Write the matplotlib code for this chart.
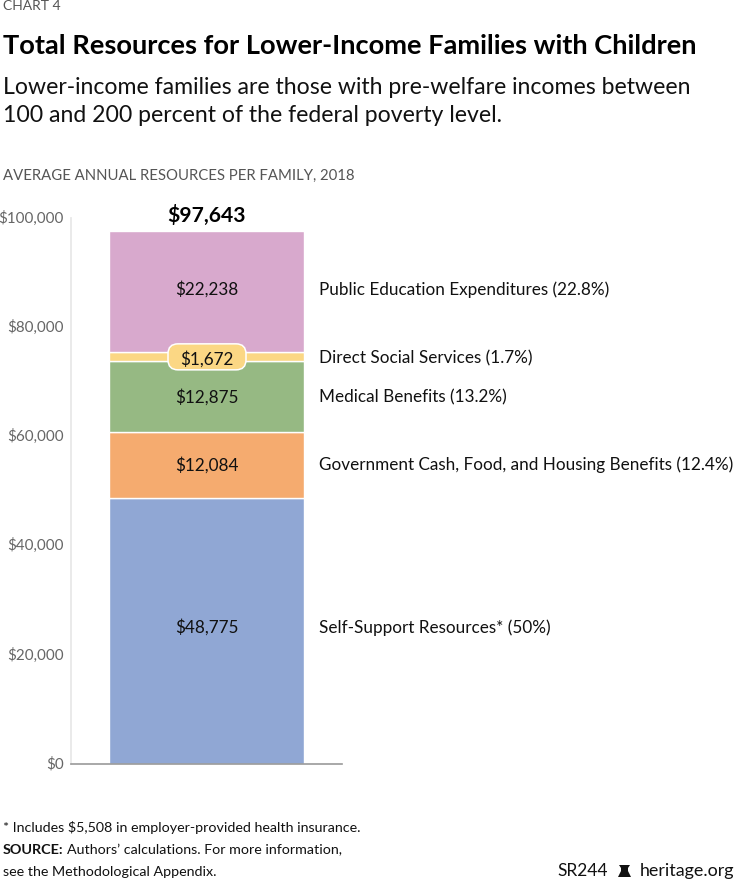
import matplotlib
matplotlib.use("Agg")
import matplotlib.pyplot as plt
from matplotlib.patches import Polygon, FancyBboxPatch
from matplotlib.transforms import ScaledTranslation

W, H = 734, 881
plt.rcParams['font.family'] = ['Lato', 'DejaVu Sans']

segments = ["Self-Support Resources* (50%)",
            "Government Cash, Food, and Housing Benefits (12.4%)",
            "Medical Benefits (13.2%)",
            "Direct Social Services (1.7%)",
            "Public Education Expenditures (22.8%)"]
values = [48775, 12084, 12875, 1672, 22238]
value_labels = ["$48,775", "$12,084", "$12,875", "$1,672", "$22,238"]
colors = ["#90a7d4", "#f5ab6f", "#96b983", "#fbd784", "#d8a9cd"]
total_label = "$97,643"
yticks = [0, 20000, 40000, 60000, 80000, 100000]
ytick_labels = ["$0", "$20,000", "$40,000", "$60,000", "$80,000", "$100,000"]

nudge_px = [3.5, 0, -1, -2, 2]  # label shift upward, pixels

def fx(x): return x / W
def fy(y): return 1 - y / H

fig = plt.figure(figsize=(W / 100, H / 100), dpi=100, facecolor="white")
ax = fig.add_axes([fx(71), fy(764), 271 / W, 546 / H])
ax.set_xlim(71, 342)
ax.set_ylim(0, 100000)
per_px = 100000 / 546

bottom = 0
for name, v, lab, c, n in zip(segments, values, value_labels, colors, nudge_px):
    ax.bar(206.3, v, width=195, bottom=bottom, color=c, edgecolor="white", linewidth=1, zorder=2)
    mid = bottom + v / 2
    ty = mid + n * per_px
    if v < 5000:
        ax.add_patch(FancyBboxPatch((178, mid - 3 * per_px), 58, 6 * per_px,
                                    boxstyle="round,pad=10,rounding_size=10",
                                    mutation_aspect=per_px, fc=c, ec="white", lw=1.1, zorder=3))
    ax.text(207, ty, lab, ha="center", va="center", fontsize=12.3, color="#111111", zorder=4)
    ax.text(319, ty, name, ha="left", va="center", fontsize=12.3, color="#111111",
            clip_on=False, zorder=4)
    bottom += v

ax.text(207, 100000 + 2.5 * per_px, total_label, ha="center", va="center", fontsize=15.2,
        fontweight="bold", color="#000000", clip_on=False)

for s in ["top", "right"]:
    ax.spines[s].set_visible(False)
ax.spines["left"].set_color("#e8e8e8")
ax.spines["left"].set_linewidth(1.3)
ax.spines["bottom"].set_color("#9a9a9a")
ax.spines["bottom"].set_linewidth(1.2)
ax.set_xticks([])
ax.set_yticks(yticks)
ax.set_yticklabels(ytick_labels, fontsize=10.9, color="#666666")
ax.tick_params(axis="y", length=0, pad=5)
shift = ScaledTranslation(0, 1.3 / 100, fig.dpi_scale_trans)
for t in ax.get_yticklabels():
    t.set_transform(t.get_transform() + shift)

def T(x, y, s, **k):
    k.setdefault("color", "#111111")
    k.setdefault("va", "center")
    fig.text(fx(x), fy(y), s, **k)

T(3, 6, "CHART 4", fontsize=10, color="#555555")
T(3, 46, "Total Resources for Lower-Income Families with Children", fontsize=19.6, fontweight="bold", color="#000000")
T(3, 87, "Lower-income families are those with pre-welfare incomes between", fontsize=16.6)
T(3, 115, "100 and 200 percent of the federal poverty level.", fontsize=16.6)
T(3, 175.5, "AVERAGE ANNUAL RESOURCES PER FAMILY, 2018", fontsize=10.7, color="#555555")
T(3, 828, "* Includes $5,508 in employer-provided health insurance.", fontsize=10.3)
T(3, 850, "SOURCE:", fontsize=10.4, fontweight="bold")
T(67, 850, "Authors\u2019 calculations. For more information,", fontsize=10.25)
T(3, 872, "see the Methodological Appendix.", fontsize=10.25)
T(557, 871, "SR244", fontsize=12.5)
T(640, 871, "heritage.org", fontsize=12.9)

bell = [(618, 877), (631, 877), (628, 871), (628, 868), (630, 865), (619, 865), (621, 868), (621, 871)]
fig.add_artist(Polygon([(fx(x), fy(y)) for x, y in bell], closed=True, fc="#111111", ec="none",
                       transform=fig.transFigure))

fig.savefig("out.png", dpi=100)
